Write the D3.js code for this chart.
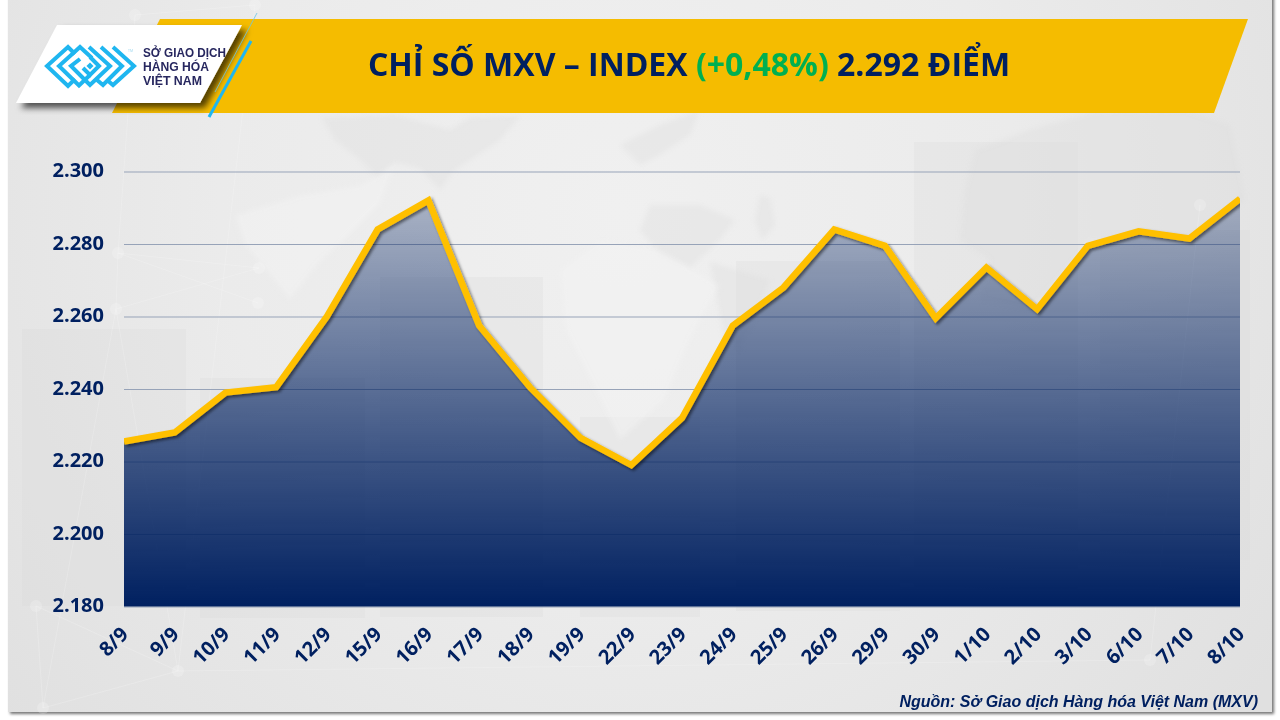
<!DOCTYPE html>
<html>
<head>
<meta charset="utf-8">
<style>
  html, body { margin: 0; background: #fff; overflow: hidden; }
  svg { display: block; }
  text { font-family: "Open Sans", sans-serif; }
</style>
<script src="https://d3js.org/d3.v7.min.js"></script>
</head>
<body>
<script>
const dates = ["8/9","9/9","10/9","11/9","12/9","15/9","16/9","17/9","18/9","19/9","22/9","23/9",
  "24/9","25/9","26/9","29/9","30/9","1/10","2/10","3/10","6/10","7/10","8/10"];
const index = [2225.5,2228,2239,2240.5,2260,2284,2292,2257.5,2240.5,2226.5,2219,2232,
  2257.5,2268,2284,2279.5,2259.5,2273.5,2262,2279.5,2283.5,2281.5,2292.5];
const yTicks = [2180,2200,2220,2240,2260,2280,2300];
const titleParts = [["CHỈ SỐ MXV – INDEX ", "#002060"], ["(+0,48%)", "#00b050"], [" 2.292 ĐIỂM", "#002060"]];
const logoLines = ["SỞ GIAO DỊCH", "HÀNG HÓA", "VIỆT NAM"];
const source = "Nguồn: Sở Giao dịch Hàng hóa Việt Nam (MXV)";

const width = 1280, height = 720;
const navy = "#002060", gold = "#ffc000";

const svg = d3.select("body").append("svg")
    .attr("width", width)
    .attr("height", height);

const defs = svg.append("defs");

const bgGrad = defs.append("radialGradient")
    .attr("id", "bg")
    .attr("gradientUnits", "userSpaceOnUse")
    .attr("cx", 620).attr("cy", 210).attr("r", 800);
bgGrad.append("stop").attr("offset", 0).attr("stop-color", "#f0f0f0");
bgGrad.append("stop").attr("offset", 0.5).attr("stop-color", "#ebebeb");
bgGrad.append("stop").attr("offset", 1).attr("stop-color", "#e0e0e0");

const areaGrad = defs.append("linearGradient")
    .attr("id", "areaFill")
    .attr("gradientUnits", "userSpaceOnUse")
    .attr("x1", 0).attr("x2", 0).attr("y1", 196).attr("y2", 606);
areaGrad.append("stop").attr("offset", 0).attr("stop-color", navy).attr("stop-opacity", 0.28);
areaGrad.append("stop").attr("offset", 1).attr("stop-color", navy).attr("stop-opacity", 1);

const shadow = (id, dx, dy, blur, op) => defs.append("filter")
    .attr("id", id)
    .attr("x", "-10%").attr("y", "-10%").attr("width", "125%").attr("height", "125%")
  .append("feDropShadow")
    .attr("dx", dx).attr("dy", dy).attr("stdDeviation", blur)
    .attr("flood-color", "#000").attr("flood-opacity", op);
shadow("frameShadow", 2, 2, 1.5, 0.55);
shadow("logoShadow", 5, 5, 3, 0.65);
shadow("lineShadow", 2, 2, 1.5, 0.5);

defs.append("filter").attr("id", "soft")
  .append("feGaussianBlur").attr("stdDeviation", 2.5);

defs.append("clipPath").attr("id", "plotClip")
  .append("rect").attr("x", 124).attr("y", 130).attr("width", 1116).attr("height", 477);

// slide background and its faint decoration
svg.append("rect")
    .attr("x", 8).attr("y", -5).attr("width", 1264).attr("height", 717)
    .attr("fill", "url(#bg)")
    .attr("filter", "url(#frameShadow)");

const deco = svg.append("g");

// candlestick blocks
deco.selectAll("rect")
  .data([[22,329,164,277],[200,378,165,240],[380,277,163,340],[580,417,120,200],
         [736,261,164,350],[914,142,164,450],[1100,230,150,330]])
  .join("rect")
    .attr("x", d => d[0]).attr("y", d => d[1]).attr("width", d => d[2]).attr("height", d => d[3])
    .attr("fill", "#d8d8d8").attr("opacity", 0.22);

// rough continents
const darkLand = [
  "M322,118 L395,115 L450,130 L470,118 L520,116 L500,140 L470,160 L452,172 L440,190 L420,168 L395,162 L378,178 L360,160 L335,140 Z",
  "M620,145 L660,125 L700,110 L690,135 L660,155 L640,165 Z",
  "M650,205 L700,205 L735,220 L720,240 L690,268 L660,255 L640,230 Z",
  "M760,195 L770,198 L775,225 L762,240 L755,220 Z",
  "M975,150 L1030,130 L1095,112 L1185,110 L1230,125 L1245,200 L1180,245 L1090,240 L1030,310 L980,300 L990,260 L960,240 L965,190 Z",
  "M710,262 L770,280 L740,350 L725,340 Z"
];
deco.append("g").attr("filter", "url(#soft)").selectAll("path")
  .data(darkLand)
  .join("path")
    .attr("d", d => d)
    .attr("fill", "#dcdcdc").attr("opacity", 0.35);

const lightLand = [
  "M560,270 L600,240 L660,250 L720,285 L690,340 L665,400 L620,440 L590,380 L565,330 Z",
  "M235,215 L300,195 L360,185 L395,165 L380,205 L345,240 L320,262 L290,300 L270,275 L245,245 Z"
];
deco.append("g").attr("filter", "url(#soft)").selectAll("path")
  .data(lightLand)
  .join("path")
    .attr("d", d => d)
    .attr("fill", "#f3f3f3").attr("opacity", 0.5);

// network lines and nodes
const nodes = [[43,708],[178,671],[36,606],[135,15],[255,5],[118,253],[116,309],[259,268],[258,303],[1200,205],[1150,660]];
const links = [[0,1],[1,2],[0,2],[1,4],[3,4],[3,5],[5,6],[6,7],[5,8],[6,0],[5,7],[1,6],[9,10],[1,10]];
deco.append("g").selectAll("line")
  .data(links)
  .join("line")
    .attr("x1", d => nodes[d[0]][0]).attr("y1", d => nodes[d[0]][1])
    .attr("x2", d => nodes[d[1]][0]).attr("y2", d => nodes[d[1]][1])
    .attr("stroke", "#fff").attr("stroke-width", 1).attr("opacity", 0.18);
deco.append("g").selectAll("circle")
  .data(nodes)
  .join("circle")
    .attr("cx", d => d[0]).attr("cy", d => d[1]).attr("r", 6)
    .attr("fill", "#fff").attr("opacity", 0.2);

// chart
const x = d3.scalePoint().domain(dates).range([124, 1240]);
const y = d3.scaleLinear().domain([2180, 2300]).range([606.5, 171.5]);

const yAxis = svg.append("g")
    .attr("transform", "translate(124,0)")
    .call(d3.axisLeft(y)
      .tickValues(yTicks)
      .tickSize(-1116)
      .tickPadding(20)
      .tickFormat(d3.formatLocale({decimal: ",", thousands: ".", grouping: [3], currency: ["", ""]}).format(",.0f")));
yAxis.select(".domain").remove();
yAxis.selectAll("line").attr("stroke", "#97a3b8").attr("stroke-width", 1);
yAxis.selectAll("text")
    .attr("fill", navy)
    .attr("dy", "0.27em")
    .style("font-size", "20px")
    .style("font-weight", 700);

const xAxis = svg.append("g")
    .attr("transform", "translate(0,606.5)")
    .call(d3.axisBottom(x).tickSize(0).tickPadding(0));
xAxis.select(".domain").remove();
xAxis.selectAll("text")
    .attr("fill", navy)
    .attr("text-anchor", "end")
    .attr("dy", 0)
    .attr("y", 0)
    .attr("transform", "translate(5,29) rotate(-45)")
    .style("font-size", "20px")
    .style("font-weight", 700);

const plot = svg.append("g").attr("clip-path", "url(#plotClip)");

plot.append("path")
    .datum(index)
    .attr("fill", "url(#areaFill)")
    .attr("d", d3.area().x((d, i) => x(dates[i])).y0(y(2180)).y1(d => y(d)));

plot.append("path")
    .datum(index)
    .attr("fill", "none")
    .attr("stroke", gold)
    .attr("stroke-width", 6.5)
    .attr("stroke-linejoin", "miter")
    .attr("filter", "url(#lineShadow)")
    .attr("d", d3.line().x((d, i) => x(dates[i])).y(d => y(d)));

// title banner
svg.append("polygon")
    .attr("points", "160,19 1248,19 1214,113 112,113")
    .attr("fill", "#f5bc00");

const title = svg.append("text")
    .attr("x", 689).attr("y", 76)
    .attr("text-anchor", "middle")
    .style("font-size", "32px")
    .style("font-weight", 700);
title.selectAll("tspan")
  .data(titleParts)
  .join("tspan")
    .attr("fill", d => d[1])
    .style("white-space", "pre")
    .text(d => d[0]);

// logo
const blue = "#1fb6f0";
svg.append("polygon")
    .attr("points", "16,103 200,103 242,25 57,25")
    .attr("fill", "#fff")
    .attr("filter", "url(#logoShadow)");

const logoPaths = [
  "M75,54 L68,47 L47,66 L68,86 L75,79",
  "M92,58 L80,47 L59,66 L79,85.5 L90,75",
  "M80,59 L71,66 L84,79",
  "M113,47 L134,66 L113,85 L107,80",
  "M101,47 L122,66 L103,85 L97,80",
  "M89,47 L110,66 L90,85 L86,81",
  "M90,57 L99,66 L90,75 L83,68"
];
svg.append("g").selectAll("path")
  .data(logoPaths)
  .join("path")
    .attr("d", d => d)
    .attr("fill", "none")
    .attr("stroke", blue)
    .attr("stroke-width", 4);
svg.append("rect")
    .attr("x", 87.5).attr("y", 63.5).attr("width", 5).attr("height", 5)
    .attr("transform", "rotate(45 90 66)")
    .attr("fill", blue);

svg.append("text")
    .attr("x", 128).attr("y", 52)
    .attr("fill", "#9fd8ef")
    .style("font-size", "3.5px")
    .text("TM");

const logoWidths = [83, 66, 59];
svg.append("g").selectAll("text")
  .data(logoLines)
  .join("text")
    .attr("x", 143)
    .attr("y", (d, i) => 57 + i * 14)
    .attr("fill", "#27275f")
    .attr("textLength", (d, i) => logoWidths[i])
    .attr("lengthAdjust", "spacingAndGlyphs")
    .style("font-family", "'Liberation Sans', Arial, sans-serif")
    .style("font-size", "12px")
    .style("font-weight", 700)
    .text(d => d);

svg.append("line")
    .attr("x1", 257).attr("y1", 13).attr("x2", 215).attr("y2", 92)
    .attr("stroke", "#6cc5e6").attr("stroke-width", 0.8);
svg.append("line")
    .attr("x1", 251).attr("y1", 41).attr("x2", 209).attr("y2", 117)
    .attr("stroke", blue).attr("stroke-width", 3);

// source
svg.append("text")
    .attr("x", 1258).attr("y", 707)
    .attr("text-anchor", "end")
    .attr("fill", navy)
    .style("font-family", "'Liberation Sans', Arial, sans-serif")
    .style("font-size", "16px")
    .style("font-weight", 700)
    .style("font-style", "italic")
    .text(source);
</script>
</body>
</html>
